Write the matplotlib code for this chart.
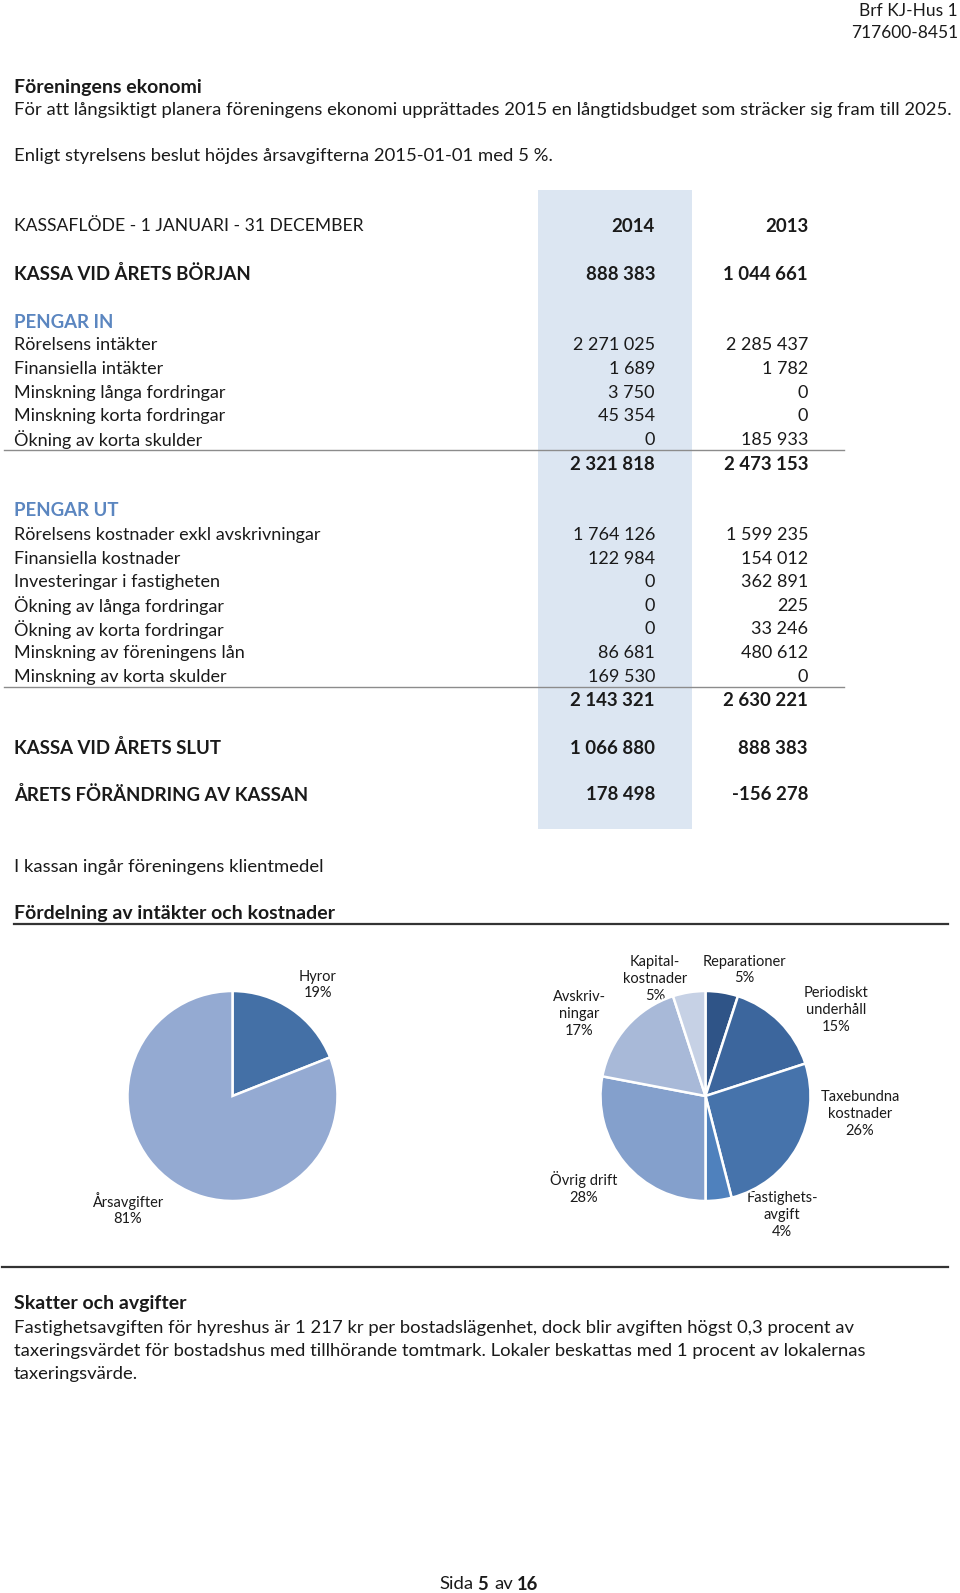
#!/usr/bin/env python3
"""Kassaflöde page with income/cost pies, redrawn with matplotlib."""
import matplotlib
matplotlib.use("Agg")
import matplotlib.pyplot as plt
from matplotlib.patches import Rectangle

plt.rcParams["font.family"] = ["Lato", "DejaVu Sans"]

# ---- data ---------------------------------------------------------------
years = ["2014", "2013"]
kassa_start = [888383, 1044661]

in_labels = ["Rörelsens intäkter", "Finansiella intäkter", "Minskning långa fordringar",
             "Minskning korta fordringar", "Ökning av korta skulder"]
in_2014 = [2271025, 1689, 3750, 45354, 0]
in_2013 = [2285437, 1782, 0, 0, 185933]
in_total = [2321818, 2473153]

out_labels = ["Rörelsens kostnader exkl avskrivningar", "Finansiella kostnader",
              "Investeringar i fastigheten", "Ökning av långa fordringar",
              "Ökning av korta fordringar", "Minskning av föreningens lån",
              "Minskning av korta skulder"]
out_2014 = [1764126, 122984, 0, 0, 0, 86681, 169530]
out_2013 = [1599235, 154012, 362891, 225, 33246, 480612, 0]
out_total = [2143321, 2630221]

kassa_end = [1066880, 888383]
change = [178498, -156278]

income_names = ["Hyror", "Årsavgifter"]
income_pct = [19, 81]

cost_names = ["Reparationer", "Periodiskt\nunderhåll", "Taxebundna\nkostnader",
              "Fastighets-\navgift", "Övrig drift", "Avskriv-\nningar", "Kapital-\nkostnader"]
cost_pct = [5, 15, 26, 4, 28, 17, 5]

# ---- layout / style -----------------------------------------------------
W, H = 960, 1593
TXT = "#1a1a1a"
BLUE_HEAD = "#5b86c0"
FS_BODY = 13.3      # running text
FS_HEAD = 14.0      # bold headings in running text
FS_TAB = 13.0       # table rows
FS_TABB = 13.4      # bold table rows
income_colors = ["#4470a6", "#94aad2"]
cost_colors = ["#2f5487", "#3c669d", "#4673ab", "#4f81bd", "#84a0cc", "#a8b9d8", "#c6d1e5"]
income_label_xy = [(318, 985), (128, 1209)]
cost_label_xy = [(744, 970), (836, 1010), (860, 1114), (782, 1215),
                 (584, 1188), (579, 1014), (655, 979)]

X_LBL, X_2014, X_2013 = 14, 655, 808
DY = 2  # baseline nudge


def fmt(v):
    return f"{v:,}".replace(",", " ")


fig = plt.figure(figsize=(W / 100, H / 100), dpi=100)
ax = fig.add_axes([0, 0, 1, 1])
ax.set_xlim(0, W)
ax.set_ylim(H, 0)
ax.axis("off")


def t(x, y, s, ha="left", bold=False, color=TXT, size=FS_TAB):
    ax.text(x, y + DY, s, ha=ha, va="center", fontsize=size, color=color,
            fontweight="bold" if bold else "normal")


# header
t(958, 9, "Brf KJ-Hus 1", ha="right", size=12.5)
t(958, 31, "717600-8451", ha="right", size=12.5)
t(X_LBL, 85, "Föreningens ekonomi", bold=True, size=FS_HEAD)
t(X_LBL, 108, "För att långsiktigt planera föreningens ekonomi upprättades 2015 en "
              "långtidsbudget som sträcker sig fram till 2025.", size=FS_BODY)
t(X_LBL, 154, "Enligt styrelsens beslut höjdes årsavgifterna 2015-01-01 med 5 %.", size=FS_BODY)

# shaded 2014 column
ax.add_patch(Rectangle((538, 190), 154, 639, facecolor="#dce6f2", edgecolor="none", zorder=0))

# table
t(X_LBL, 224, "KASSAFLÖDE - 1 JANUARI - 31 DECEMBER", size=12.6)
t(X_2014, 224, years[0], ha="right", bold=True, size=FS_TABB)
t(X_2013, 224, years[1], ha="right", bold=True, size=FS_TABB)

t(X_LBL, 272, "KASSA VID ÅRETS BÖRJAN", bold=True, size=FS_TABB)
t(X_2014, 272, fmt(kassa_start[0]), ha="right", bold=True, size=FS_TABB)
t(X_2013, 272, fmt(kassa_start[1]), ha="right", bold=True, size=FS_TABB)

t(X_LBL, 320, "PENGAR IN", bold=True, color=BLUE_HEAD, size=FS_TABB)
y = 343.4
for lbl, a, b in zip(in_labels, in_2014, in_2013):
    t(X_LBL, y, lbl)
    t(X_2014, y, fmt(a), ha="right")
    t(X_2013, y, fmt(b), ha="right")
    y += 23.6
ax.plot([4, 844], [450, 450], color="#8c8c8c", lw=1)
t(X_2014, 462, fmt(in_total[0]), ha="right", bold=True, size=FS_TABB)
t(X_2013, 462, fmt(in_total[1]), ha="right", bold=True, size=FS_TABB)

t(X_LBL, 509, "PENGAR UT", bold=True, color=BLUE_HEAD, size=FS_TABB)
y = 533.3
for lbl, a, b in zip(out_labels, out_2014, out_2013):
    t(X_LBL, y, lbl)
    t(X_2014, y, fmt(a), ha="right")
    t(X_2013, y, fmt(b), ha="right")
    y += 23.55
ax.plot([4, 844], [687, 687], color="#8c8c8c", lw=1)
t(X_2014, 699, fmt(out_total[0]), ha="right", bold=True, size=FS_TABB)
t(X_2013, 699, fmt(out_total[1]), ha="right", bold=True, size=FS_TABB)

t(X_LBL, 746, "KASSA VID ÅRETS SLUT", bold=True, size=FS_TABB)
t(X_2014, 746, fmt(kassa_end[0]), ha="right", bold=True, size=FS_TABB)
t(X_2013, 746, fmt(kassa_end[1]), ha="right", bold=True, size=FS_TABB)

t(X_LBL, 793, "ÅRETS FÖRÄNDRING AV KASSAN", bold=True, size=FS_TABB)
t(X_2014, 793, fmt(change[0]), ha="right", bold=True, size=FS_TABB)
t(X_2013, 793, fmt(change[1]), ha="right", bold=True, size=FS_TABB)

t(X_LBL, 865, "I kassan ingår föreningens klientmedel", size=FS_BODY)
t(X_LBL, 911, "Fördelning av intäkter och kostnader", bold=True, size=FS_HEAD)
ax.plot([14, 948], [924, 924], color="#333333", lw=1.6)
ax.plot([2, 948], [1267, 1267], color="#333333", lw=1.6)

# pies
def pie_axes(cx, cy, r):
    return fig.add_axes([(cx - r) / W, (H - cy - r) / H, 2 * r / W, 2 * r / H])


PIE_R = 105
for (cx, cy), vals, cols in [((232.5, 1096), income_pct, income_colors),
                             ((705.5, 1096), cost_pct, cost_colors)]:
    pax = pie_axes(cx, cy, PIE_R)
    pax.pie(vals, colors=cols, startangle=90, counterclock=False, radius=1,
            wedgeprops=dict(edgecolor="white", linewidth=1.8))
    pax.set_xlim(-1, 1)
    pax.set_ylim(-1, 1)
    pax.axis("off")

for name, pct, (x, y) in zip(income_names, income_pct, income_label_xy):
    ax.text(x, y, f"{name}\n{pct}%", ha="center", va="center", fontsize=10.5,
            color=TXT, linespacing=1.25)
for name, pct, (x, y) in zip(cost_names, cost_pct, cost_label_xy):
    ax.text(x, y, f"{name}\n{pct}%", ha="center", va="center", fontsize=10.5,
            color=TXT, linespacing=1.25)

# bottom text
t(X_LBL, 1302, "Skatter och avgifter", bold=True, size=FS_HEAD)
t(X_LBL, 1326, "Fastighetsavgiften för hyreshus är 1 217 kr per bostadslägenhet, dock blir "
               "avgiften högst 0,3 procent av", size=FS_BODY)
t(X_LBL, 1349, "taxeringsvärdet för bostadshus med tillhörande tomtmark. Lokaler beskattas "
               "med 1 procent av lokalernas", size=FS_BODY)
t(X_LBL, 1372, "taxeringsvärde.", size=FS_BODY)

t(439, 1582, "Sida", size=FS_BODY)
t(477, 1582, "5", bold=True, size=FS_BODY)
t(494, 1582, "av", size=FS_BODY)
t(517, 1582, "16", bold=True, size=FS_BODY)

fig.savefig("out.png", dpi=100)
